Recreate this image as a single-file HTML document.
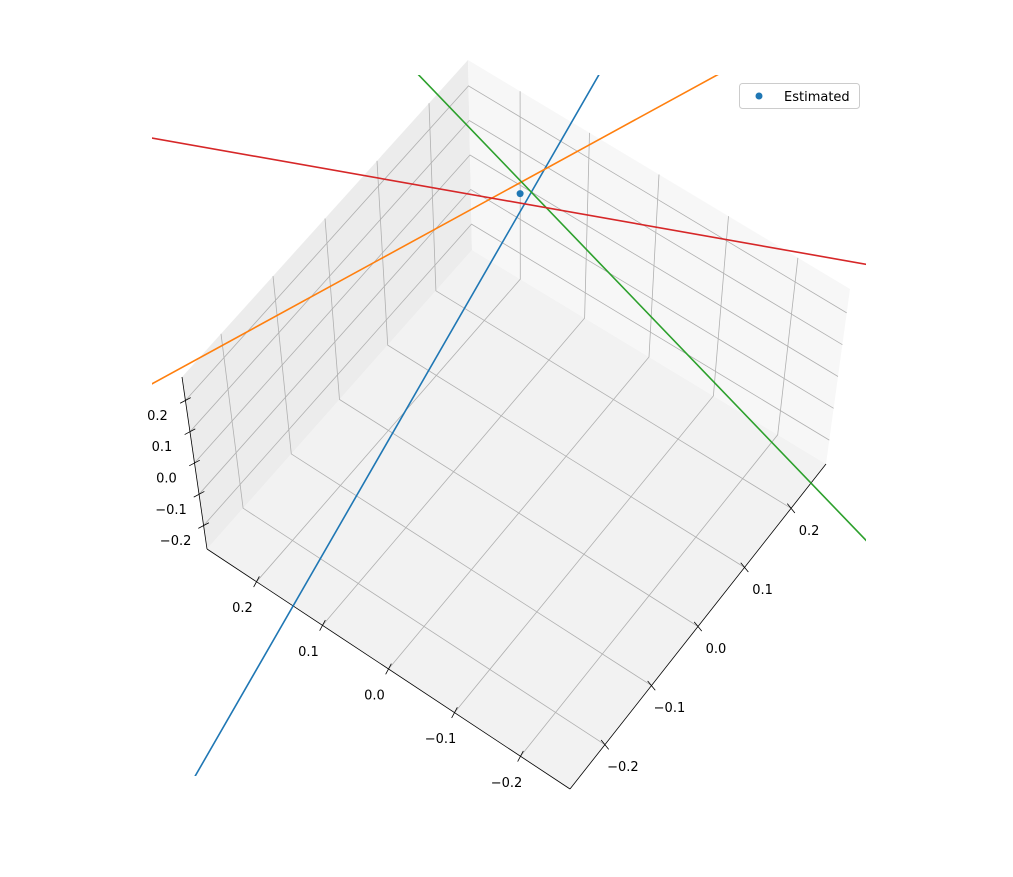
<!DOCTYPE html>
<html><head><meta charset="utf-8"><style>
body{margin:0;background:#fff}
svg{display:block;font-family:"DejaVu Sans","Liberation Sans",sans-serif}
</style></head><body>
<svg id="chart" width="1013" height="877" viewBox="0 0 1013 877" xmlns="http://www.w3.org/2000/svg">
<defs><clipPath id="clip"><rect x="152" y="75" width="714" height="701"/></clipPath></defs>
<g id="panes"></g>
<g id="grid"></g>
<g id="axes"></g>
<g id="series" clip-path="url(#clip)"></g>
<g>
<rect x="739.5" y="83.5" width="120" height="25" rx="3" fill="#fff" stroke="#ccc"/>
<circle cx="759" cy="96" r="3.5" fill="#1f77b4"/>
<text x="784" y="101" font-size="13" fill="#000">Estimated</text>
</g>
</svg>
<script>
const ticks = [-0.2, -0.1, 0.0, 0.1, 0.2];
const tickLabels = ["\u22120.2", "\u22120.1", "0.0", "0.1", "0.2"];
const lineNames = ["blue-line", "orange-line", "green-line", "red-line"];
const lineColors = ["#1f77b4", "#ff7f0e", "#2ca02c", "#d62728"];
const lineStartX = [0.020, 0.4134, 0.4394, 0.6657];
const lineStartY = [-0.6374, -0.3153, 0.3449, 0.0318];
const lineStartZ = [0, 0, 0, 0];
const lineEndX = [0.2333, 0.066, -0.517, -0.2881];
const lineEndY = [0.532, 0.6203, 0.0926, 0.4497];
const lineEndZ = [0, 0, 0, 0];
const pointX = [0.1928];
const pointY = [0.2652];
const pointZ = [0];

const LIM = 0.275;
const B = [[570,789],[207,549],[826,464],[472,250]];
const T = [[568,629],[182,377],[850,289],[468,60]];
function lerp(a,b,t){return [a[0]+(b[0]-a[0])*t, a[1]+(b[1]-a[1])*t];}
function bil(C,tx,ty){return lerp(lerp(C[0],C[1],tx), lerp(C[2],C[3],tx), ty);}
function proj(x,y,z){
  const tx=(x+LIM)/(2*LIM), ty=(y+LIM)/(2*LIM), tz=(z+LIM)/(2*LIM);
  return lerp(bil(B,tx,ty), bil(T,tx,ty), tz);
}
const NS="http://www.w3.org/2000/svg";
function mk(parent, tag, attrs){const e=document.createElementNS(NS,tag);for(const k in attrs)e.setAttribute(k,attrs[k]);parent.appendChild(e);return e;}
function poly(pts){return pts.map(p=>p[0].toFixed(1)+","+p[1].toFixed(1)).join(" ");}

const panes=document.getElementById('panes');
let e;
e=mk(panes,'polygon',{points:poly([proj(-LIM,-LIM,-LIM),proj(LIM,-LIM,-LIM),proj(LIM,LIM,-LIM),proj(-LIM,LIM,-LIM)]),fill:'#f2f2f2'});


e=mk(panes,'polygon',{points:poly([proj(LIM,-LIM,-LIM),proj(LIM,LIM,-LIM),proj(LIM,LIM,LIM),proj(LIM,-LIM,LIM)]),fill:'#ececec'});


e=mk(panes,'polygon',{points:poly([proj(-LIM,LIM,-LIM),proj(LIM,LIM,-LIM),proj(LIM,LIM,LIM),proj(-LIM,LIM,LIM)]),fill:'#f7f7f7'});



const grid=document.getElementById('grid');
function gl(pts){const l=mk(grid,'polyline',{points:poly(pts),fill:'none',stroke:'#b0b0b0','stroke-width':0.8});

}
ticks.forEach(t=>{
  gl([proj(t,-LIM,-LIM),proj(t,LIM,-LIM),proj(t,LIM,LIM)]);
  gl([proj(-LIM,t,-LIM),proj(LIM,t,-LIM),proj(LIM,t,LIM)]);
  gl([proj(LIM,-LIM,t),proj(LIM,LIM,t),proj(-LIM,LIM,t)]);
});

const axes=document.getElementById('axes');
function axis(a,b,name){const l=mk(axes,'line',{x1:a[0],y1:a[1],x2:b[0],y2:b[1],stroke:'#000','stroke-width':0.8});

}
axis(proj(-LIM,-LIM,-LIM),proj(LIM,-LIM,-LIM),'x-axis');
axis(proj(-LIM,-LIM,-LIM),proj(-LIM,LIM,-LIM),'y-axis');
axis(proj(LIM,-LIM,-LIM),proj(LIM,-LIM,LIM),'z-axis');
function tick(p,off,label,name){
  const L=Math.hypot(off[0],off[1]), d=[off[0]/L,off[1]/L];
  const l=mk(axes,'line',{x1:p[0]-d[0]*6,y1:p[1]-d[1]*6,x2:p[0]+d[0]*6,y2:p[1]+d[1]*6,stroke:'#000','stroke-width':0.8});
  
  
  const t=mk(axes,'text',{x:p[0]+off[0],y:p[1]+off[1]+4.5,'font-size':13,'text-anchor':'middle',fill:'#000'});
  t.textContent=label;
  
  
}
ticks.forEach((t,i)=>{
  tick(proj(t,-LIM,-LIM),[-14,26],tickLabels[i],'x');
  tick(proj(-LIM,t,-LIM),[18,22],tickLabels[i],'y');
  tick(proj(LIM,-LIM,t),[-28,15],tickLabels[i],'z');
});

const series=document.getElementById('series');
lineNames.forEach((n,i)=>{
  const a=proj(lineStartX[i],lineStartY[i],lineStartZ[i]), b=proj(lineEndX[i],lineEndY[i],lineEndZ[i]);
  const l=mk(series,'line',{x1:a[0],y1:a[1],x2:b[0],y2:b[1],stroke:lineColors[i],'stroke-width':1.6});
  
  
});
pointX.forEach((x,i)=>{
  const p=proj(x,pointY[i],pointZ[i]);
  const c=mk(series,'circle',{cx:p[0],cy:p[1],r:3.5,fill:'#1f77b4'});
  
  
});
</script>
</body></html>
